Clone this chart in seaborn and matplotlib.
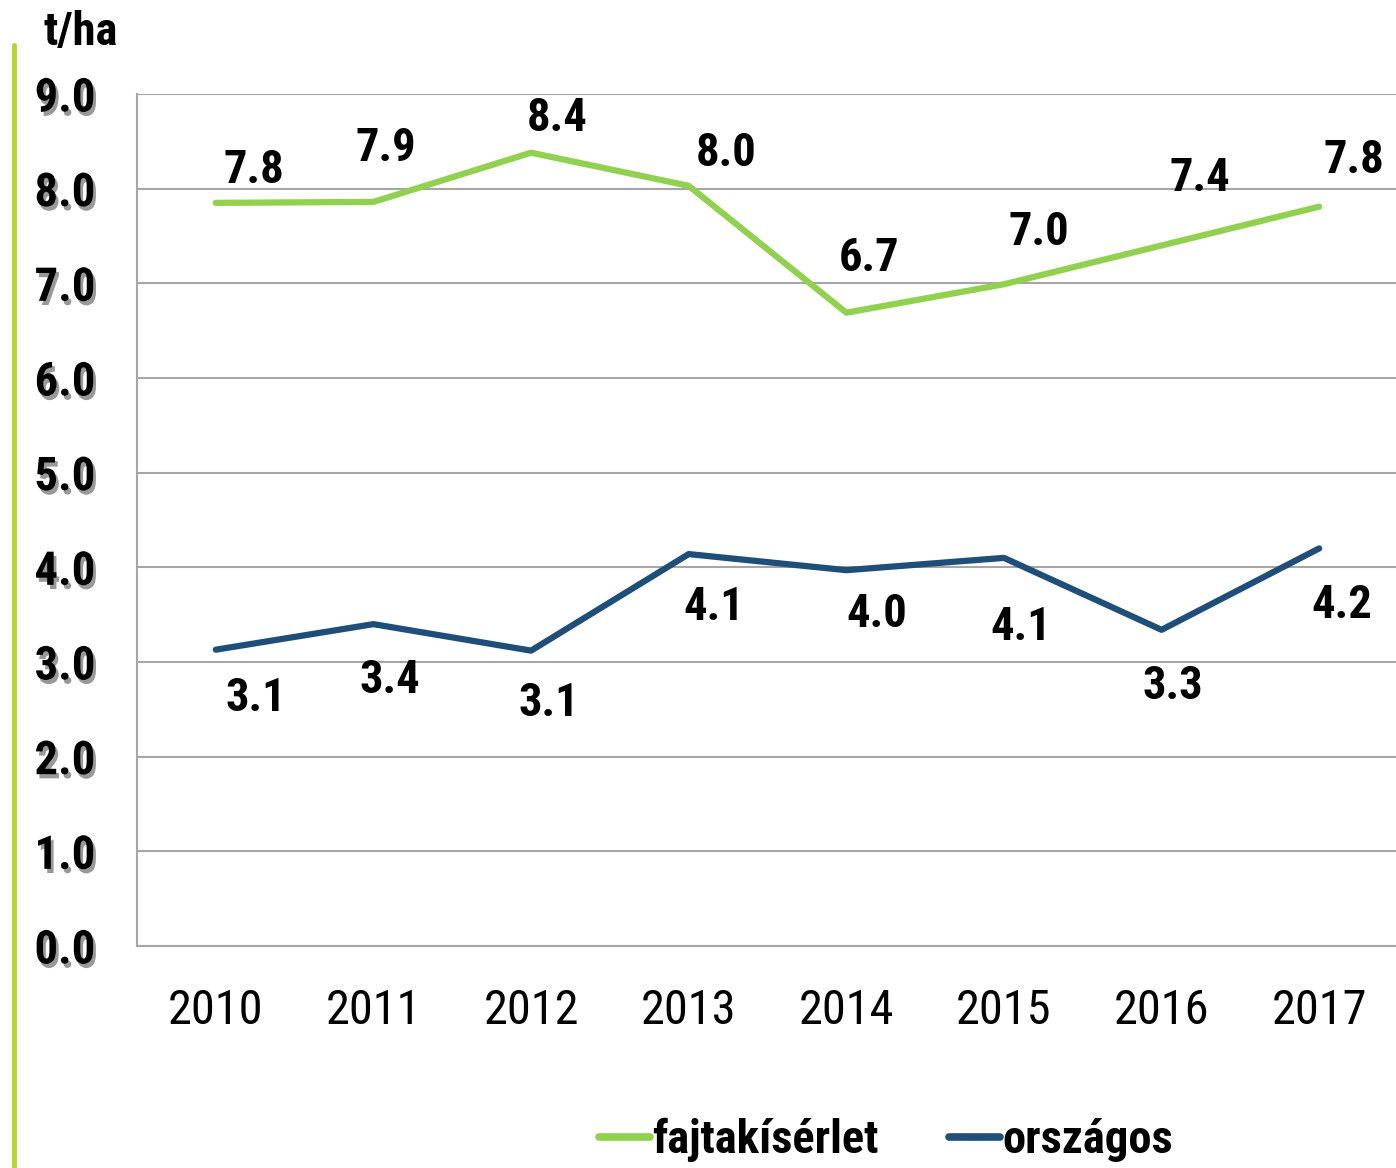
import numpy as np
import pandas as pd
import matplotlib
matplotlib.use('Agg')
import matplotlib.pyplot as plt
import matplotlib.patheffects as pe
from matplotlib import font_manager as fm
from matplotlib.lines import Line2D
import seaborn as sns

### ------------------- data ----------------------
years = [2010, 2011, 2012, 2013, 2014, 2015, 2016, 2017]
fajta = [7.85, 7.86, 8.38, 8.03, 6.69, 6.99, 7.40, 7.81]
orszagos = [3.13, 3.40, 3.12, 4.14, 3.97, 4.10, 3.34, 4.20]
series_names = ['fajtakísérlet', 'országos']
fajta_labels = ['7.8', '7.9', '8.4', '8.0', '6.7', '7.0', '7.4', '7.8']
orszagos_labels = ['3.1', '3.4', '3.1', '4.1', '4.0', '4.1', '3.3', '4.2']

# label offsets (pixels) the way excel placed them
fajta_off = [(38, 33), (12, 54), (26, 35), (37, 33), (23, 55), (35, 52), (38, 67), (35, 47)]
orsz_off = [(40, -48), (16, -56), (18, -52), (25, -53), (31, -44), (17, -69), (11, -56), (23, -57)]

df = pd.DataFrame({
    'year': years * 2,
    'value': fajta + orszagos,
    'series': [series_names[0]] * len(years) + [series_names[1]] * len(years),
})

green = '#92d050'
blue = '#1f4e79'

sns.set_style('white')

# narrow font if there is one, otherwise arial-like
names = {f.name for f in fm.fontManager.ttflist}
font = 'Liberation Sans'
scale = 1.0
for cand in ['Liberation Sans Narrow', 'Roboto Condensed', 'Arial Narrow', 'Open Sans Condensed']:
    if cand in names:
        font = cand
        scale = 1.2
        break
plt.rcParams['font.family'] = [font, 'DejaVu Sans']
plt.rcParams['text.color'] = 'black'
plt.rcParams['xtick.color'] = 'black'
plt.rcParams['ytick.color'] = 'black'

big = 28 * scale
xs = 29 * scale

fig = plt.figure(figsize=(13.96, 11.68), dpi=100)
ax = fig.add_axes([137 / 1396, 1 - 946 / 1168, (1398 - 137) / 1396, (946 - 94) / 1168])

sns.lineplot(data=df, x='year', y='value', hue='series', palette=[green, blue],
             linewidth=4.5, ax=ax, legend=False, solid_capstyle='round', solid_joinstyle='round')

ax.set_xlim(2009.5, 2017.5)
ax.set_ylim(0, 9)
ax.set_yticks(np.arange(0, 10, 1))
ax.set_yticklabels([f'{v:.1f}' for v in range(10)], fontsize=big, fontweight='bold')
for t in ax.get_yticklabels():
    t.set_path_effects([pe.withSimplePatchShadow(offset=(2, -3), shadow_rgbFace='#555555', alpha=0.6)])
ax.set_xticks(years)
ax.set_xticklabels([str(y) for y in years], fontsize=xs)
ax.set_xticks(np.arange(2009.5, 2018, 1), minor=True)
ax.tick_params(axis='x', which='major', length=0, pad=30)
ax.tick_params(axis='x', which='minor', length=11, width=1.5, color='#a6a6a6', direction='out')
ax.tick_params(axis='y', length=11, width=1.5, color='#a6a6a6', pad=19, direction='out')
ax.grid(axis='y', color='#a6a6a6', linewidth=1.5)
ax.set_xlabel('')
ax.set_ylabel('')
for s in ['top', 'right']:
    ax.spines[s].set_visible(False)
for s in ['left', 'bottom']:
    ax.spines[s].set_color('#a6a6a6')
    ax.spines[s].set_linewidth(1.5)

for x, y, lab, off in zip(years, fajta, fajta_labels, fajta_off):
    ax.annotate(lab, (x, y), xytext=off, textcoords='offset pixels', ha='center', va='center',
                fontsize=big, fontweight='bold')
for x, y, lab, off in zip(years, orszagos, orszagos_labels, orsz_off):
    ax.annotate(lab, (x, y), xytext=off, textcoords='offset pixels', ha='center', va='center',
                fontsize=big, fontweight='bold')

fig.text(43 / 1396, 1 - 32 / 1168, 't/ha', fontsize=big, fontweight='bold', va='center', ha='left')

# green bar on the left
fig.add_artist(Line2D([14 / 1396, 14 / 1396], [0, 1 - 45 / 1168], color='#b5d334', linewidth=3.5))

handles = [Line2D([], [], color=green, linewidth=5.5, solid_capstyle='round'),
           Line2D([], [], color=blue, linewidth=5.5, solid_capstyle='round')]
leg = fig.legend(handles, series_names, loc='center', bbox_to_anchor=(886 / 1396, 1 - 1140 / 1168),
                 ncol=2, frameon=False, handlelength=1.1, handletextpad=0.05, columnspacing=1.5,
                 prop={'size': big, 'weight': 'bold'})

fig.savefig('out.png', dpi=100)
